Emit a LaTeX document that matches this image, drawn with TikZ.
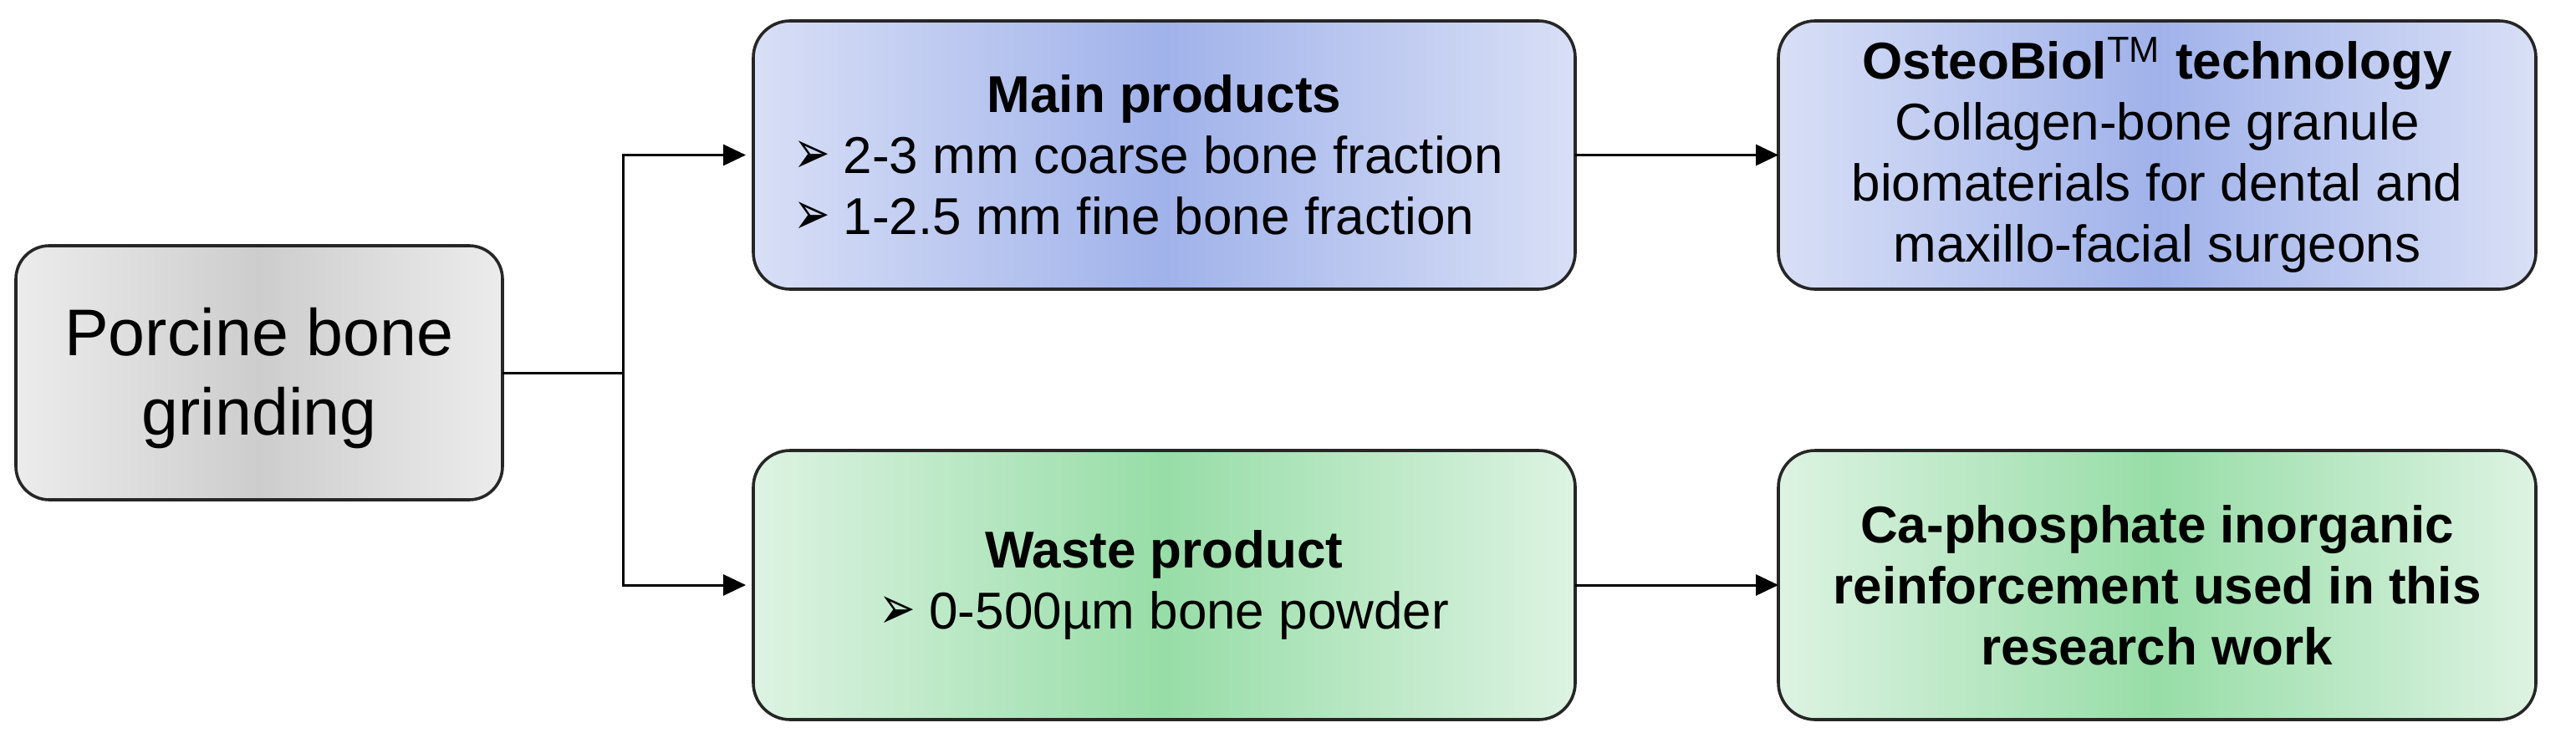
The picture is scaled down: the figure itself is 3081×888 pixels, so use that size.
\documentclass[tikz,border=0pt]{standalone}
\usepackage{fontspec}
\usepackage{graphicx}
\setmainfont{Liberation Sans}
\newfontfamily\dejavu{DejaVu Sans}
\usetikzlibrary{arrows.meta}
\definecolor{grayEdge}{HTML}{ECECEC}
\definecolor{grayMid}{HTML}{CDCDCD}
\definecolor{blueEdge}{HTML}{D8DFF6}
\definecolor{blueMid}{HTML}{A0B2EA}
\definecolor{greenEdge}{HTML}{DDF3E2}
\definecolor{greenMid}{HTML}{97DDA7}
\newlength\mainw
\newcommand\bodyf{\fontsize{15.5pt}{18.25pt}\selectfont}
\newcommand\bigf{\fontsize{19.75pt}{23.75pt}\selectfont}
\newcommand\bul{\scalebox{0.93}[1.3]{\dejavu\fontsize{14pt}{12pt}\selectfont ➢}\hspace{4pt}}
\begin{document}
\settowidth{\mainw}{\bodyf\bul 2-3 mm coarse bone fraction}%
\begin{tikzpicture}[x=0.25pt,y=-0.25pt,
  box/.style={draw=black!85, line width=0.9pt, rounded corners=11pt,
    align=center, inner sep=0pt, outer sep=0pt, font=\bodyf},
  graybox/.style={box, rounded corners=10pt, font=\bigf,
    left color=grayEdge, right color=grayEdge, middle color=grayMid},
  bluebox/.style={box, left color=blueEdge, right color=blueEdge, middle color=blueMid},
  greenbox/.style={box, left color=greenEdge, right color=greenEdge, middle color=greenMid},
  conn/.style={draw=black, line width=0.75pt},
  arr/.style={conn, -{Triangle[length=6.75pt,width=6.25pt]}}]
\useasboundingbox[fill=white] (0,0) rectangle (3081,888);

\node[graybox, minimum width=145.5pt, minimum height=76pt] (porc) at (310,446)
  {\rule{0pt}{17.4pt}Porcine bone\\grinding};

\node[bluebox, minimum width=245.75pt, minimum height=80.25pt] (main) at (1392.5,185.5)
  {\textbf{Main products}\\
   \makebox[\dimexpr\mainw+9.5pt][l]{\bul 2-3 mm coarse bone fraction}\\
   \makebox[\dimexpr\mainw+9.5pt][l]{\bul 1-2.5 mm fine bone fraction}};

\node[bluebox, minimum width=226.5pt, minimum height=80.25pt] (osteo) at (2580,185.5)
  {\textbf{OsteoBiol\textsuperscript{\mdseries TM} technology}\\
   Collagen-bone granule\\
   biomaterials for dental and\\
   maxillo-facial surgeons};

\node[greenbox, minimum width=245.75pt, minimum height=80.5pt] (waste) at (1392.5,700)
  {\textbf{Waste product}\\
   \bul 0-500µm bone powder};

\node[greenbox, minimum width=226.5pt, minimum height=80.5pt] (ca) at (2580,700)
  {\textbf{Ca-phosphate inorganic}\\
   \textbf{reinforcement used in this}\\
   \textbf{research work}};

\coordinate (split) at (745,446);
\draw[conn] (porc.east) -- (split);
\draw[arr, shorten >=2.25pt] (split) |- (main.west);
\draw[arr, shorten >=2.25pt] (split) |- (waste.west);
\draw[arr] (main.east) -- (osteo.west);
\draw[arr] (waste.east) -- (ca.west);
\end{tikzpicture}
\end{document}
